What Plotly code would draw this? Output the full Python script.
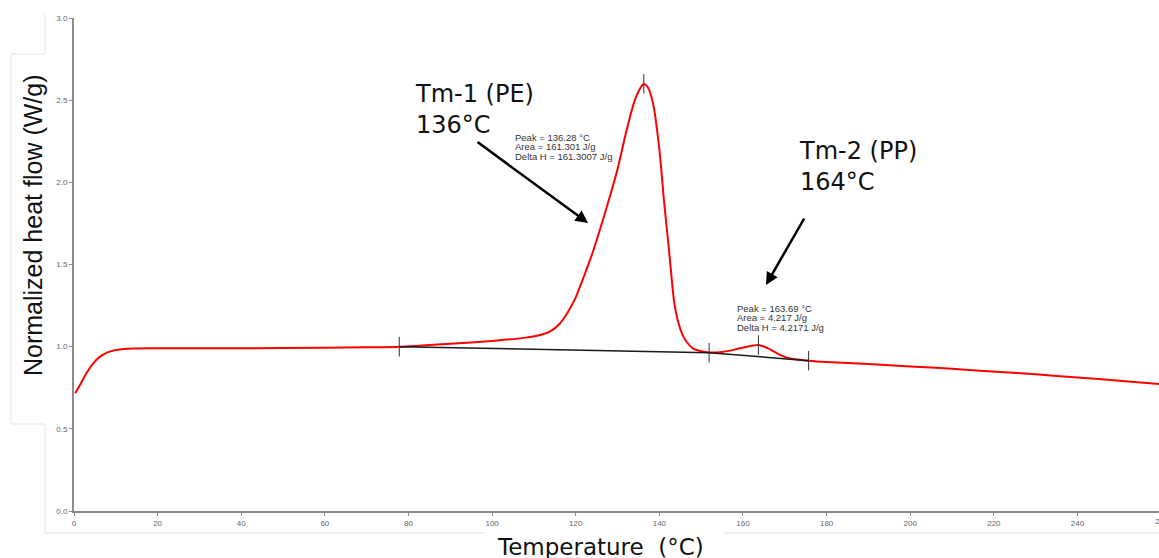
import plotly.graph_objects as go

# ---- data ----
temperature = [0.3, 1.5, 3, 4.5, 6, 8, 10, 13, 20, 40, 60, 70, 78, 90, 100, 108, 111, 114, 116,
               118, 120, 122, 124, 126, 128, 130, 132, 134, 135.5, 136.3, 137.2, 138.5, 140, 141.1,
               142.3, 143.5, 144.5, 145.5, 146.5, 148, 150, 152, 155, 158, 161, 163.7, 166, 168.5,
               171, 175.7, 180, 190, 200, 210, 221.5, 230, 240, 250, 259.5]
heat_flow = [0.716, 0.77, 0.84, 0.895, 0.935, 0.965, 0.98, 0.988, 0.99, 0.99, 0.994, 0.996, 1.0,
             1.018, 1.035, 1.055, 1.068, 1.095, 1.135, 1.205, 1.30, 1.43, 1.57, 1.73, 1.90, 2.08,
             2.30, 2.49, 2.575, 2.60, 2.58, 2.48, 2.20, 1.89, 1.59, 1.28, 1.15, 1.075, 1.03,
             0.99, 0.972, 0.965, 0.968, 0.982, 1.0, 1.01, 0.99, 0.955, 0.93, 0.915, 0.907, 0.895,
             0.88, 0.865, 0.846, 0.832, 0.812, 0.793, 0.773]

baseline_t = [77.8, 151.9, 175.7]
baseline_hf = [1.0, 0.963, 0.915]

peak_t = [136.28, 163.69]
peak_hf = [2.60, 1.01]

x_ticks = [0, 20, 40, 60, 80, 100, 120, 140, 160, 180, 200, 220, 240]
y_ticks = [0.0, 0.5, 1.0, 1.5, 2.0, 2.5, 3.0]

peak1_text = ["Peak = 136.28 °C", "Area = 161.301 J/g", "Delta H = 161.3007 J/g"]
peak2_text = ["Peak = 163.69 °C", "Area = 4.217 J/g", "Delta H = 4.2171 J/g"]

# ---- layout geometry (pixels) ----
W, H = 1159, 558
L, R, T, B = 74, 0, 18, 47
PW, PH = W - L - R, H - T - B

def px(xp):
    return (xp - L) / PW

def py(yp):
    return (H - B - yp) / PH

fig = go.Figure()

fig.add_trace(go.Scatter(x=temperature, y=heat_flow, mode="lines",
                         line=dict(color="#ff0000", width=2, shape="spline", smoothing=0.6),
                         hoverinfo="skip", showlegend=False))
fig.add_trace(go.Scatter(x=baseline_t, y=baseline_hf, mode="lines+markers",
                         line=dict(color="#1a1a1a", width=1.5),
                         marker=dict(symbol="line-ns", size=14, line=dict(color="#333333", width=1)),
                         showlegend=False))
fig.add_trace(go.Scatter(x=peak_t, y=peak_hf, mode="markers",
                         marker=dict(symbol="line-ns", size=14, line=dict(color="#333333", width=1)),
                         showlegend=False))

ann = []
# big labels
for lines, x0, y0 in [(["Tm-1 (PE)", "136°C"], 413, 78), (["Tm-2 (PP)", "164°C"], 797, 135)]:
    ann.append(dict(xref="paper", yref="paper", x=px(x0), y=py(y0), xanchor="left", yanchor="top",
                    text="<br>".join(lines), showarrow=False, align="left",
                    font=dict(family="DejaVu Sans", size=24, color="#111111")))
# small result texts
for lines, x0, y0 in [(peak1_text, 513, 137), (peak2_text, 735, 308)]:
    for i, s in enumerate(lines):
        ann.append(dict(xref="paper", yref="paper", x=px(x0), y=py(y0 + i * 9.6),
                        xanchor="left", yanchor="middle", text=s, showarrow=False,
                        font=dict(family="Liberation Sans", size=9.5, color="#333333")))
# arrows
ann.append(dict(xref="paper", yref="paper", x=px(588), y=py(223), ax=-112, ay=-82,
                axref="pixel", ayref="pixel", text="", showarrow=True, arrowhead=2,
                arrowsize=1, arrowwidth=2.5, arrowcolor="#000000"))
ann.append(dict(xref="paper", yref="paper", x=px(766), y=py(285), ax=39, ay=-68,
                axref="pixel", ayref="pixel", text="", showarrow=True, arrowhead=2,
                arrowsize=1, arrowwidth=2.5, arrowcolor="#000000"))
# axis titles
ann.append(dict(xref="paper", yref="paper", x=px(33), y=py(226), xanchor="center", yanchor="middle",
                textangle=-90, text="Normalized heat flow (W/g)", showarrow=False,
                font=dict(family="Liberation Sans", size=25, color="#111111")))
ann.append(dict(xref="paper", yref="paper", x=px(600), y=py(547), xanchor="center", yanchor="middle",
                text="Temperature  (°C)", showarrow=False,
                font=dict(family="DejaVu Sans", size=23, color="#111111")))
# cut-off last tick label
ann.append(dict(xref="paper", yref="paper", x=px(1153), y=py(521), xanchor="left", yanchor="middle",
                text="260", showarrow=False,
                font=dict(family="Liberation Sans", size=8, color="#666666")))

# faint frame lines around titles
faint = "#e4e4e4"
shapes = []
def seg(x0, y0, x1, y1):
    shapes.append(dict(type="line", xref="paper", yref="paper", x0=px(x0), y0=py(y0),
                       x1=px(x1), y1=py(y1), line=dict(color=faint, width=1)))
seg(45, 14, 45, 54)
seg(11, 54, 45, 54)
seg(11, 54, 11, 424)
seg(11, 424, 45, 424)
seg(45, 424, 45, 533)
seg(45, 533, 486, 533)
seg(724, 533, 1159, 533)

fig.update_layout(
    width=W, height=H, margin=dict(l=L, r=R, t=T, b=B),
    paper_bgcolor="white", plot_bgcolor="white",
    annotations=ann, shapes=shapes, showlegend=False,
    xaxis=dict(range=[0, 259.5], tickvals=x_ticks, showgrid=False, zeroline=False,
               showline=True, linecolor="#8c8c8c", linewidth=2, ticks="outside", ticklen=3,
               tickcolor="#8c8c8c", tickfont=dict(family="Liberation Sans", size=8, color="#666666")),
    yaxis=dict(range=[0, 3.0], tickvals=y_ticks, tickformat=".1f", showgrid=False, zeroline=False,
               showline=True, linecolor="#8c8c8c", linewidth=2, ticks="outside", ticklen=3,
               tickcolor="#8c8c8c", tickfont=dict(family="Liberation Sans", size=8, color="#666666")),
)

fig.write_html("out.html")
